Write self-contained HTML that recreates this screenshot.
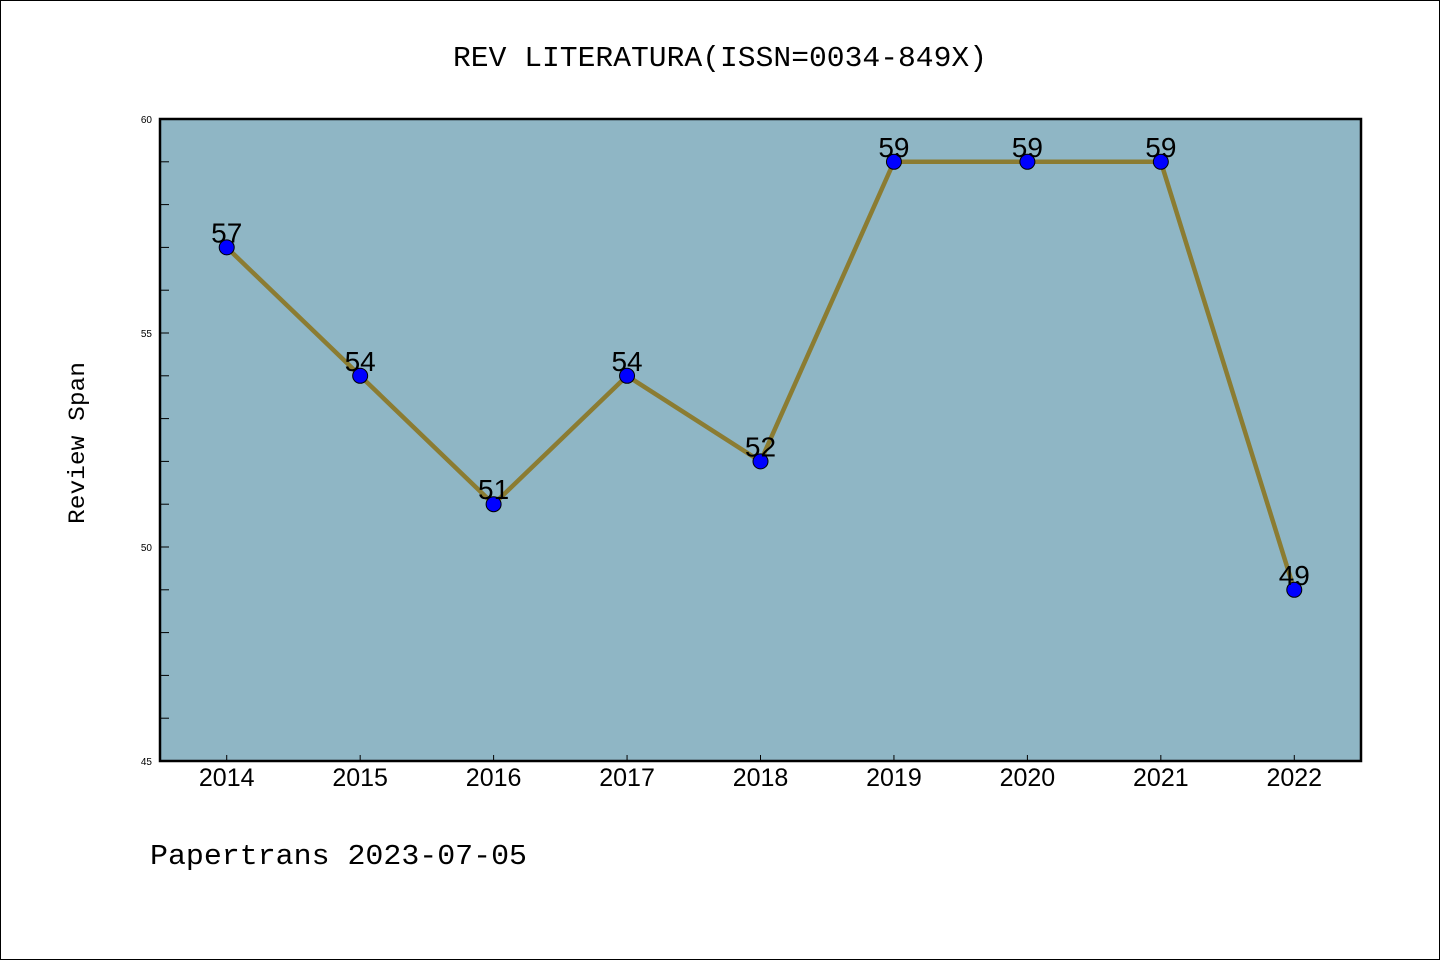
<!DOCTYPE html>
<html><head><meta charset="utf-8"><style>
html,body{margin:0;padding:0;background:#fff}
svg{display:block}
.mono{font-family:"Liberation Mono","DejaVu Sans Mono",monospace}
.sans{font-family:"Liberation Sans","DejaVu Sans",sans-serif}
</style></head><body>
<svg id="chart" width="1440" height="960" xmlns="http://www.w3.org/2000/svg">
<rect x="0.5" y="0.5" width="1439" height="959" fill="#fff" stroke="#000" stroke-width="1"/>
<text class="mono" x="720" y="66" font-size="29" text-anchor="middle" textLength="534" lengthAdjust="spacingAndGlyphs">REV LITERATURA(ISSN=0034-849X)</text>
<rect x="160" y="119" width="1201" height="642" fill="#8fb6c5"/>
<g id="ticks"></g>
<g id="series"></g>
<rect x="160" y="119" width="1201" height="642" fill="none" stroke="#000" stroke-width="2.5"/>
<text class="mono" transform="translate(84,443) rotate(-90)" font-size="23" text-anchor="middle" textLength="162" lengthAdjust="spacingAndGlyphs">Review Span</text>
<text class="mono" x="150" y="864" font-size="29" textLength="377" lengthAdjust="spacingAndGlyphs">Papertrans 2023-07-05</text>
</svg>
<script>
const years = [2014,2015,2016,2017,2018,2019,2020,2021,2022];
const values = [57,54,51,54,52,59,59,59,49];
const yTickLabels = [45,50,55,60];
const yMin = 45, yMax = 60;
const NS = "http://www.w3.org/2000/svg";
const L=160,R=1361,T=119,B=761;
function xs(i){return L + (i+0.5)*(R-L)/years.length;}
function ys(v){return B - (v-yMin)/(yMax-yMin)*(B-T);}
function mk(tag,attrs,parent){const e=document.createElementNS(NS,tag);for(const k in attrs)e.setAttribute(k,attrs[k]);parent.appendChild(e);return e;}
const tg=document.getElementById('ticks'), sg=document.getElementById('series');
for(let v=yMin; v<=yMax; v++){
  const t=mk('line',{x1:L,x2:L+9,y1:ys(v),y2:ys(v),stroke:'#000','stroke-width':1},tg);
  
  
}
yTickLabels.forEach(v=>{
  const t=mk('text',{x:L-8,y:ys(v)+4,'font-size':10,'text-anchor':'end','class':'sans'},tg);
  t.textContent=v;
  
  
});
years.forEach((y,i)=>{
  const t=mk('line',{x1:xs(i),x2:xs(i),y1:B,y2:B-6,stroke:'#000','stroke-width':1},tg);
  
  
  const l=mk('text',{x:xs(i),y:B+25,'font-size':25,'text-anchor':'middle','class':'sans'},tg);
  l.textContent=y;
  
  
});
const line=mk('polyline',{points:values.map((v,i)=>xs(i)+','+ys(v)).join(' '),fill:'none',stroke:'#8b7c32','stroke-width':4.5,'stroke-linejoin':'round'},sg);


values.forEach((v,i)=>{
  const c=mk('circle',{cx:xs(i),cy:ys(v),r:7.5,fill:'#0000ff',stroke:'#000','stroke-width':1},sg);
  
  
  const t=mk('text',{x:xs(i),y:ys(v)-5,'font-size':28,'text-anchor':'middle','class':'sans'},sg);
  t.textContent=v;
  
  
});
</script>
</body></html>
